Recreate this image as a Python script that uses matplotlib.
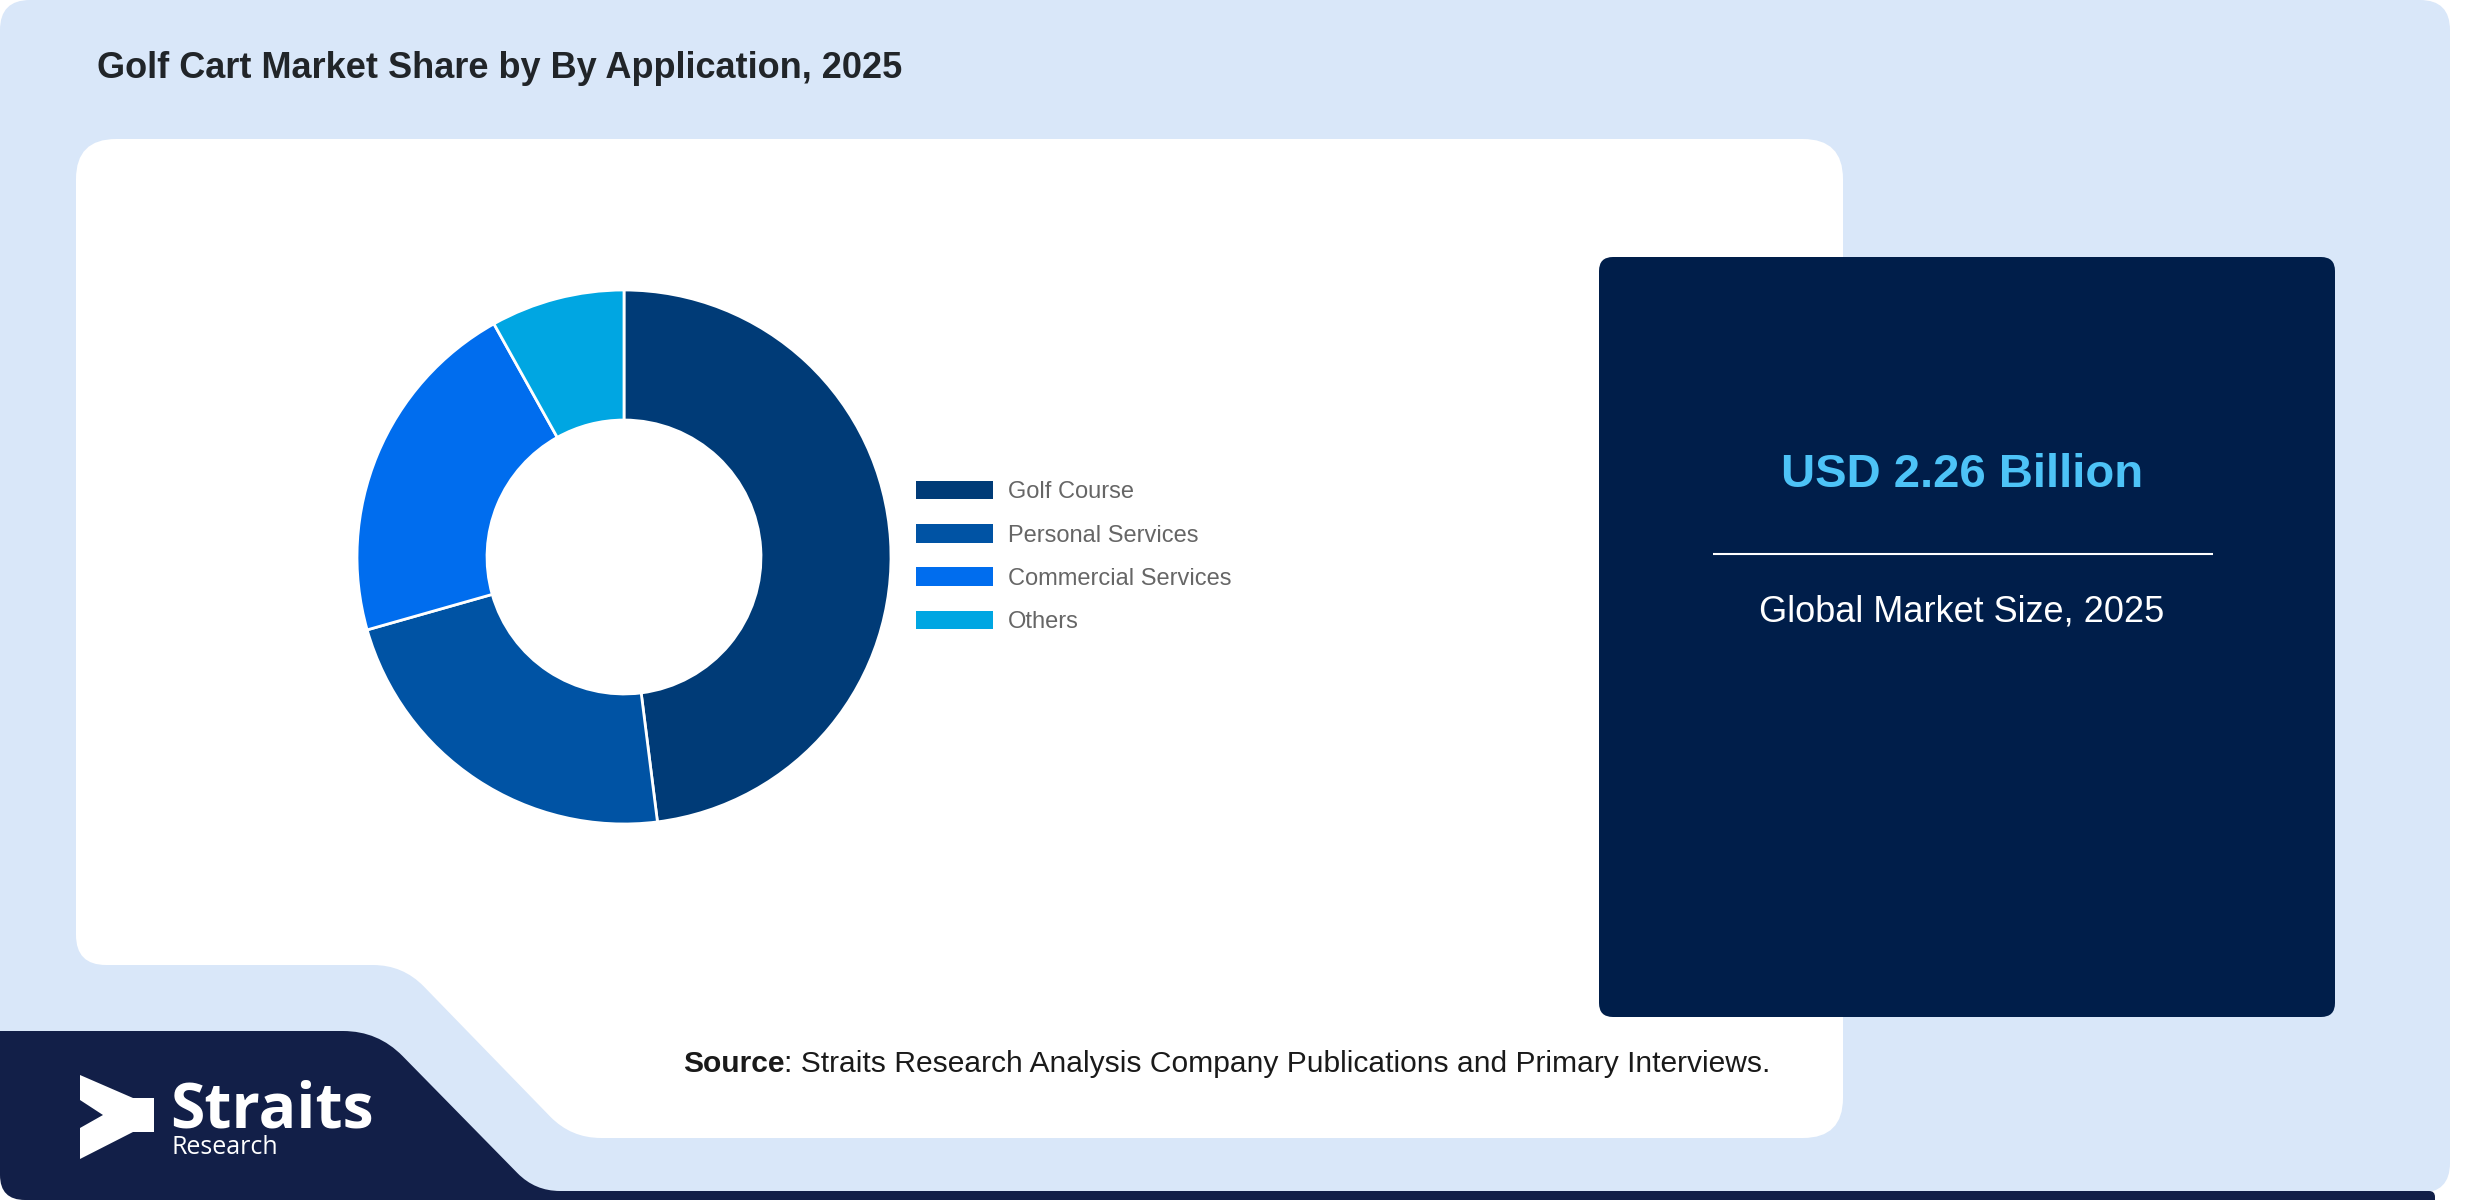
import numpy as np
import matplotlib
matplotlib.use("Agg")
import matplotlib.pyplot as plt
from matplotlib.path import Path
from matplotlib.patches import PathPatch, Patch

plt.rcParams["font.family"] = ["Liberation Sans", "DejaVu Sans"]

# ─── Data ─────────────────────────────────────────────────────────────────────
CATEGORIES = ["Golf Course", "Personal Services", "Commercial Services", "Others"]
SHARES = [48.0, 22.6, 21.3, 8.1]
COLORS = ["#003B77", "#0053A4", "#006DEE", "#00A6E2"]

TITLE = "Golf Cart Market Share by By Application, 2025"
MARKET_VALUE = "USD 2.26 Billion"
MARKET_LABEL = "Global Market Size, 2025"
SOURCE_BOLD = "Source"
SOURCE_TEXT = ": Straits Research Analysis Company Publications and Primary Interviews."

# ─── Style ────────────────────────────────────────────────────────────────────
W, H = 2480, 1200
BG_BLUE = "#D9E7F9"
PANEL_NAVY = "#001E4A"
LOGO_NAVY = "#121F48"
LOGO_FONT = ["Open Sans", "Lato", "DejaVu Sans"]


def rounded_path(pts, radii):
    """Closed polygon with each corner rounded by a quadratic curve."""
    verts, codes = [], []
    n = len(pts)
    for i in range(n):
        p0 = np.array(pts[i - 1], float)
        p1 = np.array(pts[i], float)
        p2 = np.array(pts[(i + 1) % n], float)
        r = radii[i]
        d0 = (p0 - p1) / np.linalg.norm(p0 - p1)
        d2 = (p2 - p1) / np.linalg.norm(p2 - p1)
        a = p1 + d0 * r
        b = p1 + d2 * r
        verts.append(a)
        codes.append(Path.MOVETO if i == 0 else Path.LINETO)
        verts += [p1, b]
        codes += [Path.CURVE3, Path.CURVE3]
    verts.append(verts[0])
    codes.append(Path.CLOSEPOLY)
    return Path(verts, codes)


def rect_path(x0, y0, x1, y1, r):
    return rounded_path([(x0, y0), (x1, y0), (x1, y1), (x0, y1)], [r] * 4)


fig = plt.figure(figsize=(W / 100, H / 100), dpi=100, facecolor="white")
bg = fig.add_axes([0, 0, 1, 1])
bg.set_xlim(0, W)
bg.set_ylim(H, 0)
bg.axis("off")

# light blue card
bg.add_patch(PathPatch(rect_path(0, 0, 2450, 1193, 30), fc=BG_BLUE, ec="none"))

# navy logo band (bottom-left) with thin strip along the bottom
band = [(0, 1031), (378, 1031), (535, 1191), (2435, 1191), (2435, 1200), (0, 1200)]
bg.add_patch(PathPatch(rounded_path(band, [0.1, 35, 25, 6, 0.1, 25]), fc=LOGO_NAVY, ec="none"))

# white chart panel with the stepped bottom-left
white = [(76, 139), (1843, 139), (1843, 1138), (571, 1138), (403, 965), (76, 965)]
bg.add_patch(PathPatch(rounded_path(white, [40, 40, 40, 30, 30, 30]), fc="white", ec="none"))

# navy market-size panel
bg.add_patch(PathPatch(rect_path(1599, 257, 2335, 1017, 14), fc=PANEL_NAVY, ec="none"))

# logo mark
mark = [(80, 1075), (133, 1098), (154, 1098), (154, 1132), (133, 1132),
        (80, 1159), (80, 1128), (103, 1115), (80, 1100)]
bg.add_patch(plt.Polygon(mark, closed=True, fc="white", ec="none"))
bg.text(170, 1127, "Straits", color="white", fontsize=45, fontweight="bold",
        family=LOGO_FONT, va="baseline", ha="left")
bg.text(172, 1154, "Research", color="white", fontsize=18,
        family=LOGO_FONT, va="baseline", ha="left")

# title
bg.text(97, 78, TITLE, fontsize=26, fontweight="bold", color="#212529",
        va="baseline", ha="left")

# market size
cx = 1962
bg.text(cx, 487, MARKET_VALUE, fontsize=34, fontweight="bold", color="#4DC3F7",
        ha="center", va="baseline")
bg.plot([1713, 2213], [554, 554], color="white", lw=1.5, solid_capstyle="butt")
bg.text(cx, 622, MARKET_LABEL, fontsize=26, color="white", ha="center", va="baseline")

# source line
src = bg.text(683, 1072, SOURCE_BOLD, fontsize=21.6, fontweight="bold", color="#1a1a1a",
              ha="left", va="baseline")
bg.annotate(SOURCE_TEXT, xy=(1, 0), xycoords=src, fontsize=21.6, color="#1a1a1a",
            ha="left", va="bottom")

# ─── Donut ────────────────────────────────────────────────────────────────────
cxp, cyp, rad = 624, 557, 267
ax = fig.add_axes([(cxp - rad) / W, (H - cyp - rad) / H, 2 * rad / W, 2 * rad / H])
wedges, _ = ax.pie(SHARES, colors=COLORS, startangle=90, counterclock=False,
                   radius=1.0,
                   wedgeprops=dict(width=0.487, edgecolor="white", linewidth=2))
for w in wedges:
    w.set_clip_on(False)
ax.set_xlim(-1, 1)
ax.set_ylim(-1, 1)
ax.set_aspect("equal")
ax.axis("off")

handles = [Patch(facecolor=c, edgecolor="none") for c in COLORS]
fig.legend(handles, CATEGORIES, loc="center left",
           bbox_to_anchor=(916 / W, 1 - 557 / H), frameon=False,
           fontsize=17, labelcolor="#666666", handlelength=3.25, handleheight=0.83,
           handletextpad=0.65, labelspacing=0.88, borderpad=0, borderaxespad=0)

fig.savefig("out.png", dpi=100, facecolor="white")
